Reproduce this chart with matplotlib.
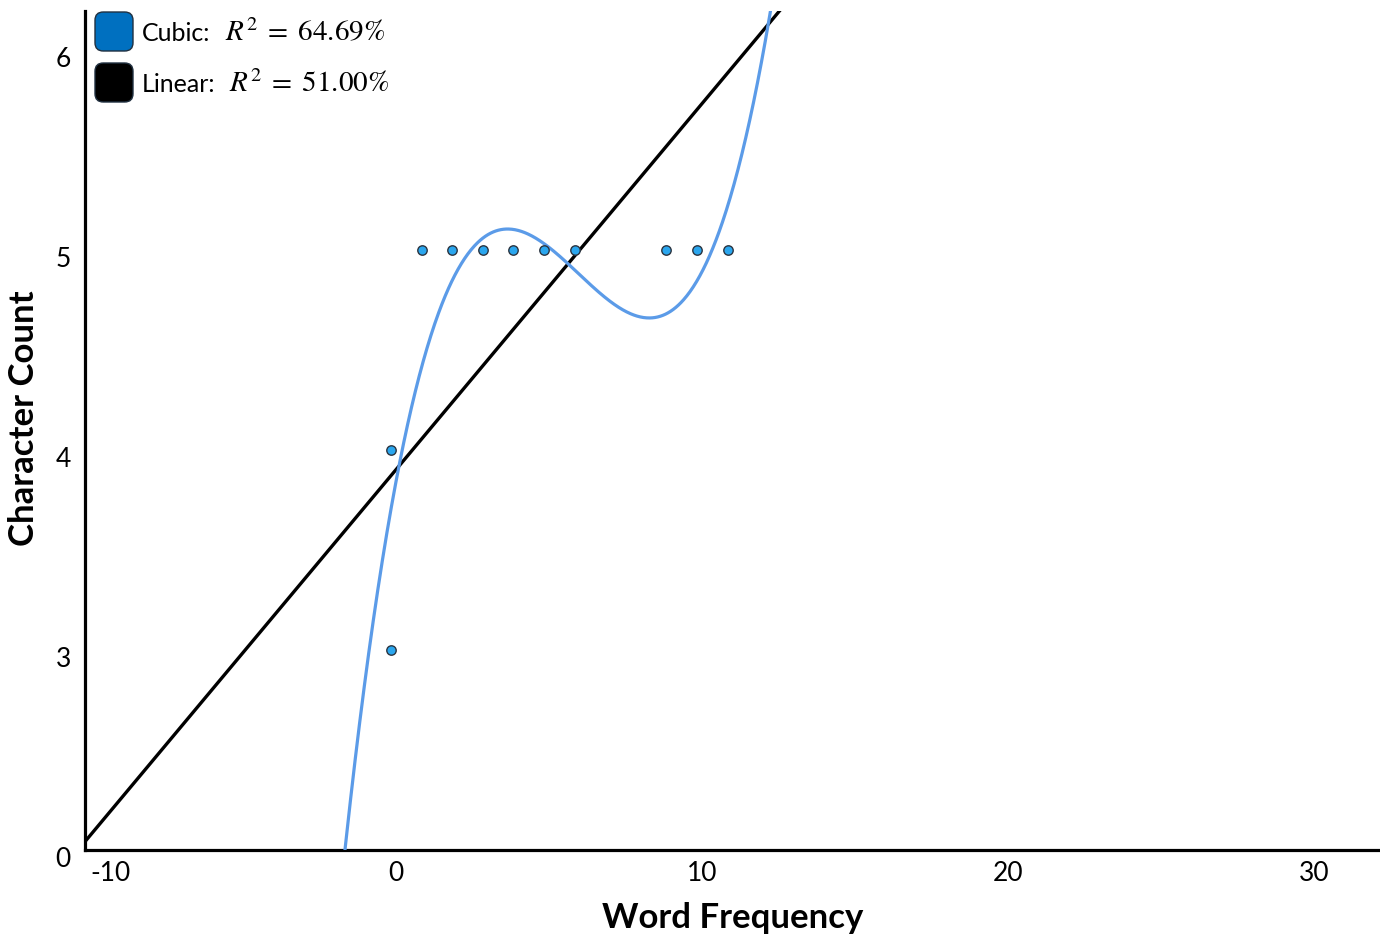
import numpy as np
import matplotlib
matplotlib.use("Agg")
import matplotlib.pyplot as plt
from matplotlib.patches import FancyBboxPatch
import matplotlib.transforms as mtransforms

plt.rcParams['font.family'] = ['Lato', 'DejaVu Sans']
plt.rcParams['mathtext.fontset'] = 'stix'

# ---- data ----
word_frequency = [0, 0, 1, 2, 3, 4, 5, 6, 9, 10, 11]
character_count = [3, 4, 5, 5, 5, 5, 5, 5, 5, 5, 5]

# fitted curves (coefficients, highest power first)
cubic_coef = [0.008967, -0.16476, 0.8650, 3.705]
linear_coef = [0.183, 3.872]

x_ticks = [-10, 0, 10, 20, 30]
x_tick_labels = ["-10", "0", "10", "20", "30"]
y_ticks = [2, 3, 4, 5, 6]
y_tick_labels = ["0", "3", "4", "5", "6"]

legend_names = ["Cubic:", "Linear:"]
legend_r2 = [r"$R^2\;=\;64.69\%$", r"$R^2\;=\;51.00\%$"]
legend_colors = ["#0070c0", "#000000"]

W, H = 1380, 940
fig = plt.figure(figsize=(W / 100, H / 100), dpi=100)
left_px, right_px, top_px, bottom_px = 85, 1380, 11, 850
ax = fig.add_axes([left_px / W, 1 - bottom_px / H, (right_px - left_px) / W, (bottom_px - top_px) / H])

xmin, xmax = -10, 32.32
ymin, ymax = 2.0, 6.195
ax.set_xlim(xmin, xmax)
ax.set_ylim(ymin, ymax)

xs = np.linspace(xmin, xmax, 2000)
ax.plot(xs, np.polyval(linear_coef, xs), color="black", lw=2.4, zorder=2, solid_capstyle='butt')
ax.plot(xs, np.polyval(cubic_coef, xs), color="#5b9be8", lw=2.3, zorder=3)
ax.scatter(word_frequency, character_count, s=46, facecolor="#2aa6ee", edgecolor="#2b3440",
           linewidths=1.0, zorder=4)

for s in ['top', 'right']:
    ax.spines[s].set_visible(False)
for s in ['left', 'bottom']:
    ax.spines[s].set_linewidth(2.3)
    ax.spines[s].set_color('black')

ax.set_xticks(x_ticks)
ax.set_xticklabels(x_tick_labels, fontsize=19)
ax.set_yticks(y_ticks)
ax.set_yticklabels(y_tick_labels, fontsize=19)
ax.tick_params(axis='both', length=0, pad=8)

# shift tick labels slightly as in the reference
for lbl in ax.get_xticklabels():
    lbl.set_transform(lbl.get_transform() + mtransforms.ScaledTranslation(5 / 100, 0, fig.dpi_scale_trans))
xl = ax.get_xticklabels()[0]
xl.set_horizontalalignment('left')
for lbl in ax.get_yticklabels():
    lbl.set_transform(lbl.get_transform() + mtransforms.ScaledTranslation(-3 / 100, -7 / 100, fig.dpi_scale_trans))

fig.text(732.5 / W, 1 - 918 / H, "Word Frequency", fontsize=25, fontweight='bold', ha='center', va='center')
fig.text(24 / W, 1 - 418 / H, "Character Count", fontsize=25, fontweight='bold', ha='center', va='center',
         rotation=90)

# legend
box_tops = [12, 63]
math_x = [225, 229]
for i in range(len(legend_names)):
    t = box_tops[i]
    patch = FancyBboxPatch((95 / W, 1 - (t + 39) / H), 38 / W, 39 / H,
                           boxstyle="round,pad=0,rounding_size=0.006",
                           transform=fig.transFigure, facecolor=legend_colors[i], edgecolor="#203040",
                           linewidth=1.0, mutation_aspect=W / H)
    fig.patches.append(patch)
    fig.text(142 / W, 1 - (t + 29) / H, legend_names[i], fontsize=18, ha='left', va='baseline')
    fig.text(math_x[i] / W, 1 - (t + 29) / H, legend_r2[i], fontsize=21, ha='left', va='baseline')

fig.savefig("out.png", dpi=100)
